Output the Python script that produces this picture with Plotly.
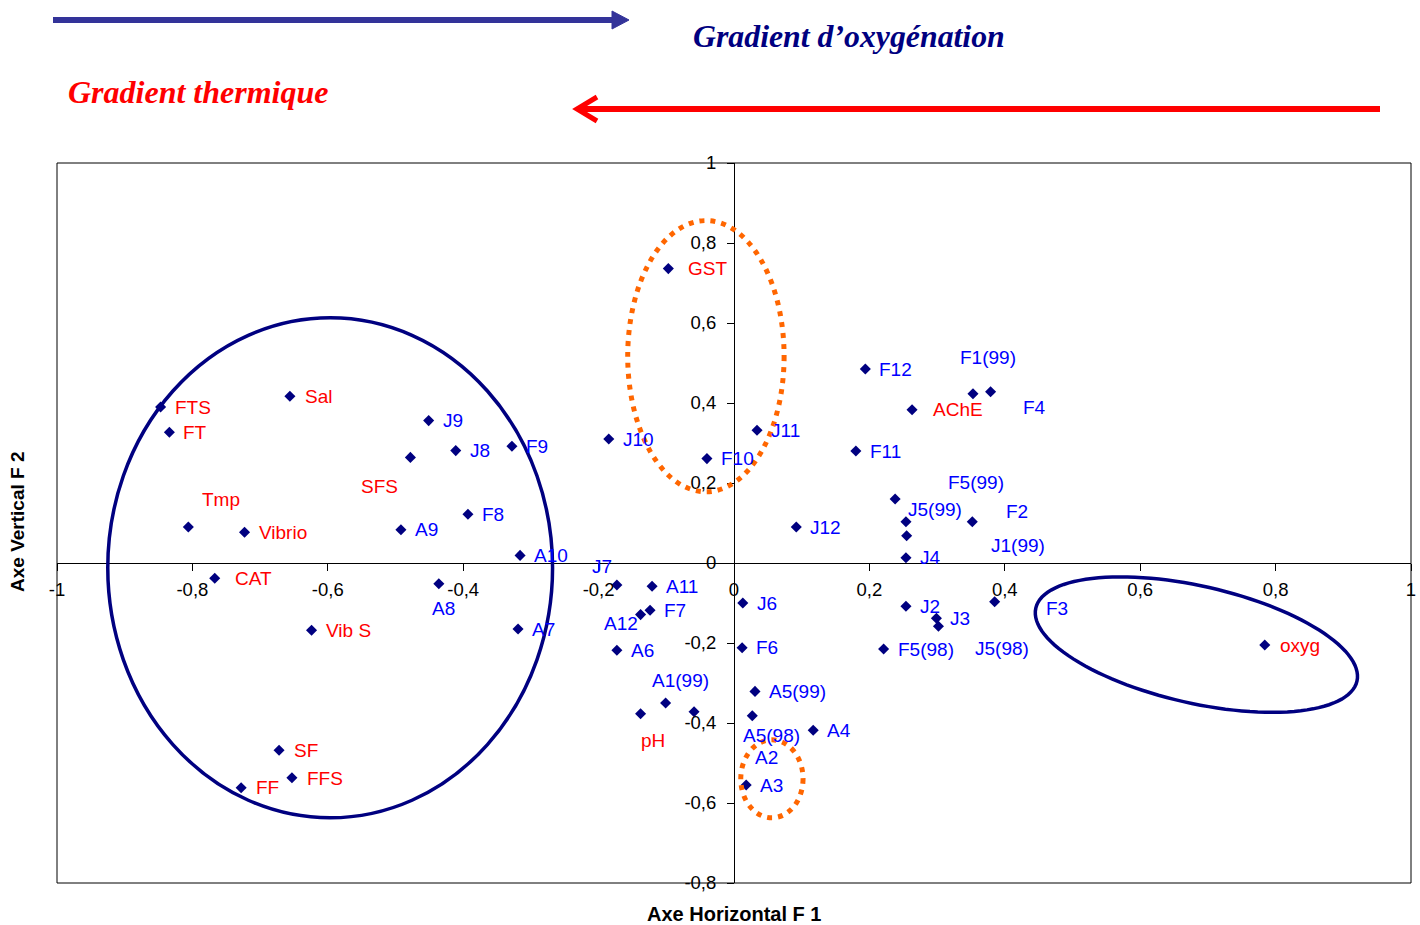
import numpy as np
import plotly.graph_objects as go

# ACP: coordinates of variables (red) and sites (blue) on the F1 x F2 plane
var_names = ["FTS", "FT", "Sal", "Tmp", "Vibrio", "CAT", "SFS", "Vib S",
             "SF", "FFS", "FF", "GST", "pH", "AChE", "oxyg"]
var_f1 = [-0.847, -0.834, -0.656, -0.806, -0.723, -0.767, -0.478, -0.624,
          -0.672, -0.653, -0.728, -0.097, -0.138, 0.263, 0.784]
var_f2 = [0.390, 0.327, 0.417, 0.090, 0.077, -0.038, 0.264, -0.168,
          -0.468, -0.537, -0.562, 0.736, -0.377, 0.383, -0.205]

site_names = ["J9", "J8", "F9", "J10", "F10", "F8", "A9", "A10", "A8", "J7",
              "A11", "A12", "F7", "A7", "A6", "F6", "A1(99)", "A2", "A5(99)",
              "A5(98)", "A4", "A3", "J11", "J6", "J12", "F12", "F1(99)", "F4",
              "F11", "F5(99)", "J5(99)", "J1(99)", "J4", "F2", "J2", "J3",
              "J5(98)", "F5(98)", "F3"]
site_f1 = [-0.451, -0.411, -0.328, -0.185, -0.040, -0.393, -0.492, -0.316,
           -0.436, -0.173, -0.121, -0.138, -0.124, -0.319, -0.173, 0.012,
           -0.101, -0.059, 0.031, 0.027, 0.117, 0.018, 0.034, 0.013, 0.092,
           0.194, 0.353, 0.379, 0.180, 0.238, 0.254, 0.255, 0.254, 0.352,
           0.254, 0.299, 0.302, 0.221, 0.385]
site_f2 = [0.356, 0.281, 0.292, 0.310, 0.261, 0.122, 0.083, 0.019, -0.052,
           -0.055, -0.058, -0.129, -0.118, -0.165, -0.218, -0.212, -0.350,
           -0.372, -0.321, -0.382, -0.418, -0.555, 0.332, -0.100, 0.090,
           0.485, 0.423, 0.428, 0.280, 0.160, 0.103, 0.068, 0.013, 0.103,
           -0.108, -0.138, -0.158, -0.215, -0.097]

tick_vals_x = [-1, -0.8, -0.6, -0.4, -0.2, 0, 0.2, 0.4, 0.6, 0.8, 1]
tick_text_x = ["-1", "-0,8", "-0,6", "-0,4", "-0,2", "0", "0,2", "0,4", "0,6", "0,8", "1"]
tick_vals_y = [-0.8, -0.6, -0.4, -0.2, 0, 0.2, 0.4, 0.6, 0.8, 1]
tick_text_y = ["-0,8", "-0,6", "-0,4", "-0,2", "0", "0,2", "0,4", "0,6", "0,8", "1"]

# label placement (pixel offsets right / down from the marker)
DEFAULT_OFFSET = (13, 0)
label_offset = {
    "Sal": (14, 0), "Tmp": (13, -28), "CAT": (19, 0), "SFS": (-50, 29),
    "SF": (14, 0), "FFS": (14, 1), "FF": (14, 0), "GST": (19, 0),
    "pH": (-1, 27), "AChE": (20, 0), "oxyg": (14, 0),
    "A8": (-8, 25), "J7": (-26, -19), "A12": (-38, 9), "A1(99)": (-15, -23),
    "A2": (60, 46), "A5(98)": (-10, 20), "F1(99)": (-14, -36), "F4": (31, 16),
    "F5(99)": (52, -17), "J5(99)": (1, -12), "F2": (33, -10),
    "J1(99)": (83, 10), "J5(98)": (36, 22), "F3": (50, 7),
}

W, H = 1420, 925
M_L, M_R, M_T, M_B = 57, 9, 163, 42
X_RANGE = [-1, 1]
Y_RANGE = [-0.8, 1]
PX_X = (W - M_L - M_R) / (X_RANGE[1] - X_RANGE[0])
PX_Y = (H - M_T - M_B) / (Y_RANGE[1] - Y_RANGE[0])

SANS = "Liberation Sans, Arial, sans-serif"
SERIF = "Liberation Serif, Times New Roman, serif"
NAVY = "#000080"
RED = "#FF0000"
BLUE = "#0000FF"
ORANGE = "#FF6600"

fig = go.Figure()
fig.add_trace(go.Scatter(
    x=var_f1 + site_f1, y=var_f2 + site_f2, mode="markers",
    marker=dict(symbol="diamond", size=8.5, color=NAVY),
    hoverinfo="skip", showlegend=False,
))

annotations = []
for names, xs, ys, col in ((var_names, var_f1, var_f2, RED),
                           (site_names, site_f1, site_f2, BLUE)):
    for n, x, y in zip(names, xs, ys):
        dx, dy = label_offset.get(n, DEFAULT_OFFSET)
        annotations.append(dict(
            x=x, y=y, xref="x", yref="y", text=n, showarrow=False,
            xanchor="left", yanchor="middle", xshift=dx - 1, yshift=-dy,
            font=dict(family=SANS, size=19, color=col),
        ))


def px_to_paper_x(px):
    return (px - M_L) / (W - M_L - M_R)


def px_to_paper_y(py):
    return (H - M_B - py) / (H - M_T - M_B)


# axis titles and gradient captions
annotations += [
    dict(x=0.5, y=px_to_paper_y(914), xref="paper", yref="paper",
         text="<b>Axe Horizontal F 1</b>", showarrow=False,
         xanchor="center", yanchor="middle",
         font=dict(family=SANS, size=20, color="black")),
    dict(x=px_to_paper_x(17), y=px_to_paper_y(522), xref="paper", yref="paper",
         text="<b>Axe Vertical F 2</b>", showarrow=False, textangle=-90,
         xanchor="center", yanchor="middle",
         font=dict(family=SANS, size=19, color="black")),
    dict(x=px_to_paper_x(691), y=px_to_paper_y(37), xref="paper", yref="paper",
         text="<b><i>Gradient d’oxygénation</i></b>", showarrow=False,
         xanchor="left", yanchor="middle",
         font=dict(family=SERIF, size=31.8, color=NAVY)),
    dict(x=px_to_paper_x(66), y=px_to_paper_y(92), xref="paper", yref="paper",
         text="<b><i>Gradient thermique</i></b>", showarrow=False,
         xanchor="left", yanchor="middle",
         font=dict(family=SERIF, size=32, color=RED)),
]


def rotated_ellipse_path(cx, cy, a_px, b_px, angle_deg, n=120):
    th = np.deg2rad(angle_deg)
    t = np.linspace(0, 2 * np.pi, n, endpoint=False)
    dx = a_px * np.cos(t) * np.cos(th) - b_px * np.sin(t) * np.sin(th)
    dy = a_px * np.cos(t) * np.sin(th) + b_px * np.sin(t) * np.cos(th)
    xs = cx + dx / PX_X
    ys = cy - dy / PX_Y
    pts = [f"{x:.4f},{y:.4f}" for x, y in zip(xs, ys)]
    return "M" + " L".join(pts) + " Z"


shapes = [
    # plot frame
    dict(type="rect", xref="paper", yref="paper", x0=0, x1=1, y0=0, y1=1,
         line=dict(color="black", width=1), layer="below"),
    # groupings
    dict(type="circle", xref="x", yref="y", x0=-0.925, x1=-0.268,
         y0=-0.637, y1=0.613, line=dict(color=NAVY, width=3.5)),
    dict(type="path", xref="x", yref="y",
         path=rotated_ellipse_path(0.683, -0.204, 164.7, 58.5, 12.8),
         line=dict(color=NAVY, width=3.5)),
    dict(type="circle", xref="x", yref="y", x0=-0.157, x1=0.074,
         y0=0.178, y1=0.856, line=dict(color=ORANGE, width=5, dash="5px,6px")),
    dict(type="circle", xref="x", yref="y", x0=0.010, x1=0.102,
         y0=-0.637, y1=-0.442, line=dict(color=ORANGE, width=5, dash="5px,6px")),
    # oxygenation arrow (to the right)
    dict(type="line", xref="paper", yref="paper",
         x0=px_to_paper_x(53), x1=px_to_paper_x(614),
         y0=px_to_paper_y(20), y1=px_to_paper_y(20),
         line=dict(color="#333399", width=6)),
    dict(type="path", xref="paper", yref="paper",
         path=(f"M{px_to_paper_x(612)},{px_to_paper_y(11)} "
               f"L{px_to_paper_x(629)},{px_to_paper_y(20)} "
               f"L{px_to_paper_x(612)},{px_to_paper_y(29)} Z"),
         fillcolor="#333399", line=dict(color="#333399", width=1)),
    # thermal arrow (to the left)
    dict(type="line", xref="paper", yref="paper",
         x0=px_to_paper_x(578), x1=px_to_paper_x(1380),
         y0=px_to_paper_y(109), y1=px_to_paper_y(109),
         line=dict(color=RED, width=6)),
    dict(type="path", xref="paper", yref="paper",
         path=(f"M{px_to_paper_x(597)},{px_to_paper_y(97)} "
               f"L{px_to_paper_x(577)},{px_to_paper_y(109)} "
               f"L{px_to_paper_x(597)},{px_to_paper_y(121)}"),
         line=dict(color=RED, width=5)),
]

x_axis_pos = (0 - Y_RANGE[0]) / (Y_RANGE[1] - Y_RANGE[0])
y_axis_pos = (0 - X_RANGE[0]) / (X_RANGE[1] - X_RANGE[0])

tick_font = dict(family=SANS, size=18.5, color="black")
fig.update_layout(
    width=W, height=H,
    margin=dict(l=M_L, r=M_R, t=M_T, b=M_B),
    paper_bgcolor="white", plot_bgcolor="white",
    showlegend=False, hovermode=False,
    xaxis=dict(range=X_RANGE, anchor="free", position=x_axis_pos,
               showgrid=False, zeroline=False, showline=True,
               linecolor="black", linewidth=1,
               ticks="outside", ticklen=7, tickcolor="black", tickwidth=1,
               tickvals=tick_vals_x, ticktext=tick_text_x, tickfont=tick_font,
               ticklabelstandoff=3, automargin=False, fixedrange=True),
    yaxis=dict(range=Y_RANGE, anchor="free", position=y_axis_pos,
               showgrid=False, zeroline=False, showline=True,
               linecolor="black", linewidth=1,
               ticks="outside", ticklen=7, tickcolor="black", tickwidth=1,
               tickvals=tick_vals_y, ticktext=tick_text_y, tickfont=tick_font,
               ticklabelstandoff=7, automargin=False, fixedrange=True),
    shapes=shapes,
    annotations=annotations,
)

fig.write_html("out.html")
